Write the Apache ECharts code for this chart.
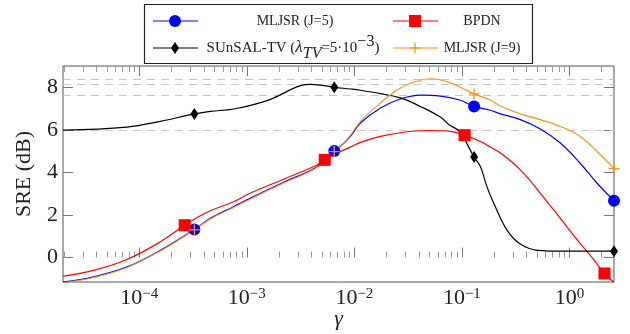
<!DOCTYPE html>
<html>
<head>
<meta charset="utf-8">
<script src="https://cdn.jsdelivr.net/npm/echarts@6/dist/echarts.min.js"></script>
<style>
  html, body { margin: 0; padding: 0; background: #fff; }
  #chart { width: 630px; height: 334px; }
</style>
</head>
<body>
<div id="chart"></div>
<script>
// values: gamma (log x) and SRE in dB
const gammaJ5 = [1.95e-5, 3.76e-5, 7.69e-5, 1.57e-4, 3.25e-4, 4.57e-4, 7.53e-4, 1.07e-3, 2.2e-3, 4.5e-3, 6.5e-3, 7.41e-3, 9.18e-3, 1.14e-2, 1.75e-2, 2.68e-2, 4.11e-2, 6.31e-2, 9.68e-2, 0.13, 0.184, 0.228, 0.35, 0.537, 0.824, 1.26, 1.81, 2.6]
const sreJ5 = [-1.16, -0.91, -0.44, 0.34, 1.32, 1.84, 2.39, 2.78, 3.54, 4.27, 5.01, 5.22, 5.69, 6.32, 7.03, 7.45, 7.63, 7.58, 7.39, 7.10, 6.92, 6.75, 6.48, 6.04, 5.38, 4.43, 3.49, 2.67]
const markJ5 = [4, 10, 19, 27]

const gammaBP = [1.95e-5, 3.76e-5, 7.69e-5, 1.57e-4, 2.64e-4, 3.69e-4, 4.57e-4, 7.53e-4, 1.07e-3, 2.2e-3, 4.5e-3, 5.3e-3, 7.41e-3, 9.18e-3, 1.14e-2, 1.75e-2, 3.09e-2, 5.09e-2, 7.82e-2, 0.106, 0.149, 0.184, 0.228, 0.35, 0.537, 0.824, 1.26, 1.68, 2.12, 2.6]
const sreBP = [-0.87, -0.60, -0.09, 0.74, 1.52, 1.96, 2.2, 2.62, 3.02, 3.68, 4.35, 4.59, 4.98, 5.19, 5.41, 5.69, 5.91, 5.97, 5.93, 5.75, 5.45, 5.19, 4.91, 4.12, 3.02, 1.84, 0.66, -0.09, -0.75, -1.17]
const markBP = [4, 11, 19, 28]

const gammaTV = [1.95e-5, 7.69e-5, 1.57e-4, 3.25e-4, 4.57e-4, 7.53e-4, 1.54e-3, 3.15e-3, 3.9e-3, 5.17e-3, 6.5e-3, 9.18e-3, 1.14e-2, 1.75e-2, 2.68e-2, 4.11e-2, 6.31e-2, 7.6e-2, 9.5e-2, 0.13, 0.149, 0.171, 0.198, 0.263, 0.35, 0.501, 0.885, 2.6]
const sreTV = [5.99, 6.13, 6.40, 6.75, 6.87, 6.98, 7.37, 8.08, 8.14, 8.08, 8.0, 7.92, 7.86, 7.70, 7.50, 7.10, 6.60, 6.24, 5.92, 4.72, 4.27, 3.33, 2.55, 1.29, 0.63, 0.34, 0.30, 0.30]
const markTV = [3, 10, 19, 27]

const gammaJ9 = [1.95e-5, 3.76e-5, 7.69e-5, 1.57e-4, 3.25e-4, 4.57e-4, 7.53e-4, 1.07e-3, 2.2e-3, 4.5e-3, 6.5e-3, 7.41e-3, 9.18e-3, 1.14e-2, 1.75e-2, 2.68e-2, 4.11e-2, 5.09e-2, 7.82e-2, 0.104, 0.13, 0.184, 0.228, 0.35, 0.537, 0.824, 1.26, 1.81, 2.6]
const sreJ9 = [-1.19, -0.94, -0.47, 0.31, 1.30, 1.81, 2.35, 2.74, 3.50, 4.23, 4.98, 5.22, 5.74, 6.40, 7.26, 7.97, 8.33, 8.40, 8.21, 7.92, 7.69, 7.40, 7.12, 6.75, 6.48, 6.16, 5.69, 4.98, 4.18]
const markJ9 = [4, 10, 20, 28]

// dashed guide lines at each curve's peak
const peakLines = [8.40, 8.14, 7.63, 5.97]

const xMin = 1.95e-5
const xMax = 2.6
const yMin = -1.15
const yMax = 9.0
const majorTicks = [1e-4, 1e-3, 1e-2, 1e-1, 1]
const minorTicks = []
for (let e = -5; e <= 0; e++) {
    for (let k = 2; k <= 9; k++) minorTicks.push(k * Math.pow(10, e))
}
const yTicks = [0, 2, 4, 6, 8]

const SERIF = '"Liberation Serif", "DejaVu Serif", serif'
const BLUE = '#0000ff'
const RED = '#ff0000'
const BLACK = '#000000'
const ORANGE = '#f7931e'
const PLUS = 'path://M4.4,0H5.6V4.4H10V5.6H5.6V10H4.4V5.6H0V4.4H4.4Z'

const curve = (xs, ys, marks) =>
    xs.map((x, i) => marks.includes(i) ? [x, ys[i]] : { value: [x, ys[i]], symbol: 'none' })

const chart = echarts.init(document.getElementById('chart'))

const xAxisBase = {
    type: 'log',
    logBase: 10,
    min: xMin,
    max: xMax,
    axisLine: { show: false },
    splitLine: { show: false },
    minorTick: { show: false }
}

const supFmt = v => {
    const e = Math.round(Math.log10(v))
    return '{b|10}{s|' + (e < 0 ? '\u2212' + (-e) : e) + '}'
}

const lineSeries = (name, xs, ys, marks, color, symbol, size) => ({
    name,
    type: 'line',
    data: curve(xs, ys, marks),
    smooth: 0.4,
    symbol,
    symbolSize: size,
    showSymbol: true,
    lineStyle: { color, width: 1.2 },
    itemStyle: { color },
    emphasis: { disabled: true },
    animation: false
})

const s1 = lineSeries('MLJSR (J=5)', gammaJ5, sreJ5, markJ5, BLUE, 'circle', 12)
s1.markLine = {
    silent: true,
    z: 1,
    symbol: 'none',
    label: { show: false },
    lineStyle: { color: '#c8c8c8', type: [8, 6], width: 1 },
    data: peakLines.map(v => ({ yAxis: v })),
    animation: false
}

const option = {
    backgroundColor: '#fff',
    grid: {
        left: 63, right: 16, top: 66, bottom: 52,
        outerBoundsMode: 'none',
        containLabel: false,
        show: true, borderColor: '#555', borderWidth: 1, backgroundColor: 'transparent'
    },
    xAxis: [
        {
            ...xAxisBase,
            position: 'bottom',
            axisTick: { inside: true, length: 10, customValues: majorTicks, lineStyle: { color: '#777' } },
            axisLabel: {
                customValues: majorTicks,
                formatter: supFmt,
                margin: 5,
                rich: {
                    b: { fontFamily: SERIF, fontSize: 22, color: '#222', lineHeight: 22, verticalAlign: 'bottom' },
                    s: { fontFamily: SERIF, fontSize: 15, color: '#222', lineHeight: 14, verticalAlign: 'top' }
                }
            },
            name: 'γ',
            nameLocation: 'middle',
            nameGap: 26,
            nameMoveOverlap: false,
            nameTextStyle: { fontFamily: SERIF, fontStyle: 'italic', fontSize: 22, color: '#222' }
        },
        {
            ...xAxisBase,
            position: 'bottom',
            axisTick: { inside: true, length: 6, customValues: minorTicks, lineStyle: { color: '#999' } },
            axisLabel: { show: false }
        },
        {
            ...xAxisBase,
            position: 'top',
            axisTick: { inside: true, length: 10, customValues: majorTicks, lineStyle: { color: '#777' } },
            axisLabel: { show: false }
        },
        {
            ...xAxisBase,
            position: 'top',
            axisTick: { inside: true, length: 6, customValues: minorTicks, lineStyle: { color: '#999' } },
            axisLabel: { show: false }
        }
    ],
    yAxis: [
        {
            type: 'value',
            min: yMin,
            max: yMax,
            position: 'left',
            axisLine: { show: false },
            splitLine: { show: false },
            axisTick: { inside: true, length: 10, customValues: yTicks, lineStyle: { color: '#777' } },
            axisLabel: {
                customValues: yTicks,
                margin: 5,
                fontFamily: SERIF,
                fontSize: 22,
                color: '#222'
            },
            name: 'SRE (dB)',
            nameLocation: 'middle',
            nameGap: 28,
            nameMoveOverlap: false,
            nameTextStyle: { fontFamily: SERIF, fontSize: 22, color: '#222' }
        },
        {
            type: 'value',
            min: yMin,
            max: yMax,
            position: 'right',
            axisLine: { show: false },
            splitLine: { show: false },
            axisTick: { inside: true, length: 10, customValues: yTicks, lineStyle: { color: '#777' } },
            axisLabel: { show: false }
        }
    ],
    series: [
        s1,
        lineSeries('BPDN', gammaBP, sreBP, markBP, RED, 'rect', 12),
        lineSeries('SUnSAL-TV', gammaTV, sreTV, markTV, BLACK, 'diamond', [8, 12]),
        lineSeries('MLJSR (J=9)', gammaJ9, sreJ9, markJ9, ORANGE, PLUS, 11)
    ],
    graphic: [
        {
            type: 'group',
            silent: true,
            children: [
                { type: 'rect', shape: { x: 144.5, y: 4.5, width: 388, height: 59 }, style: { fill: '#fff', stroke: '#222', lineWidth: 1.2 } },
                // row 1, col 1
                { type: 'line', shape: { x1: 153, y1: 21, x2: 198, y2: 21 }, style: { stroke: BLUE, lineWidth: 1.2 } },
                { type: 'circle', shape: { cx: 175, cy: 21, r: 6 }, style: { fill: BLUE } },
                { type: 'text', x: 295, y: 21, style: { text: 'MLJSR (J=5)', font: '14px ' + SERIF, fill: '#222', align: 'center', verticalAlign: 'middle' } },
                // row 1, col 2
                { type: 'line', shape: { x1: 393, y1: 21, x2: 438, y2: 21 }, style: { stroke: RED, lineWidth: 1.2 } },
                { type: 'rect', shape: { x: 409, y: 15, width: 12, height: 12 }, style: { fill: RED } },
                { type: 'text', x: 482, y: 21, style: { text: 'BPDN', font: '14px ' + SERIF, fill: '#222', align: 'center', verticalAlign: 'middle' } },
                // row 2, col 1
                { type: 'line', shape: { x1: 153, y1: 48, x2: 198, y2: 48 }, style: { stroke: BLACK, lineWidth: 1.2 } },
                { type: 'polygon', shape: { points: [[175, 42], [179, 48], [175, 54], [171, 48]] }, style: { fill: BLACK } },
                {
                    type: 'text', x: 293, y: 48,
                    style: {
                        text: '{n|SUnSAL-TV (}{m|λ}{sub|TV}{n|=5·10}{sup|\u22123}{n|)}',
                        align: 'center', verticalAlign: 'middle',
                        rich: {
                            n: { fontFamily: SERIF, fontSize: 15, fill: '#222', lineHeight: 28, verticalAlign: 'middle' },
                            m: { fontFamily: SERIF, fontSize: 17, fontStyle: 'italic', fill: '#222', lineHeight: 28, verticalAlign: 'middle' },
                            sub: { fontFamily: SERIF, fontSize: 16, fontStyle: 'italic', fill: '#222', lineHeight: 18, verticalAlign: 'bottom' },
                            sup: { fontFamily: SERIF, fontSize: 16, fill: '#222', lineHeight: 18, verticalAlign: 'top' }
                        }
                    }
                },
                // row 2, col 2
                { type: 'line', shape: { x1: 393, y1: 48, x2: 438, y2: 48 }, style: { stroke: ORANGE, lineWidth: 1.2 } },
                { type: 'line', shape: { x1: 409.5, y1: 48, x2: 420.5, y2: 48 }, style: { stroke: ORANGE, lineWidth: 1.2 } },
                { type: 'line', shape: { x1: 415, y1: 42.5, x2: 415, y2: 53.5 }, style: { stroke: ORANGE, lineWidth: 1.2 } },
                { type: 'text', x: 482, y: 48, style: { text: 'MLJSR (J=9)', font: '14px ' + SERIF, fill: '#222', align: 'center', verticalAlign: 'middle' } }
            ]
        }
    ]
}

chart.setOption(option)
window.addEventListener('resize', () => chart.resize())
</script>
</body>
</html>
